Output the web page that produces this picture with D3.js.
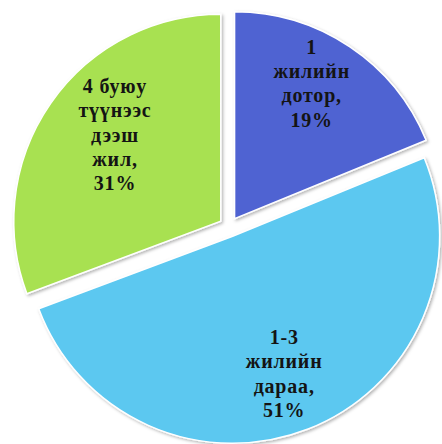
<!DOCTYPE html>
<html>
<head>
<meta charset="utf-8">
<script src="https://cdn.jsdelivr.net/npm/d3@7/dist/d3.min.js"></script>
<style>
  html, body { margin: 0; padding: 0; background: #ffffff; }
  svg { display: block; }
</style>
</head>
<body>
<svg id="chart" width="442" height="444"></svg>
<script>
// ---- data ----
const categories = ["1 жилийн дотор", "1-3 жилийн дараа", "4 буюу түүнээс дээш жил"];
const values = [19, 51, 31];
const labelLines = [
  ["1", "жилийн", "дотор,", "19%"],
  ["1-3", "жилийн", "дараа,", "51%"],
  ["4 буюу", "түүнээс", "дээш", "жил,", "31%"]
];
const colors = ["#5063d2", "#5cc8f0", "#a8e151"];

// ---- layout ----
const cx = 229, cy = 227;
const R = 207;
const explode = 10;
const labelFrac = [0.753, 0.708, 0.661];
const labelShiftDeg = [-4.2, 0.8, 4.6];
const lineH = 24.3;

const svg = d3.select("#chart");
const defs = svg.append("defs");
const f = defs.append("filter").attr("id", "sh")
  .attr("x", "-10%").attr("y", "-10%").attr("width", "120%").attr("height", "120%");
f.append("feDropShadow").attr("dx", 1.5).attr("dy", 1.5)
  .attr("stdDeviation", 1.5).attr("flood-color", "#000").attr("flood-opacity", 0.3);

const pie = d3.pie().sort(null).value(d => d);
const arcs = pie(values);
const arc = d3.arc().innerRadius(0).outerRadius(R);

const g = svg.append("g").attr("transform", `translate(${cx},${cy})`);

const slices = g.selectAll("g.slice").data(arcs).enter().append("g")
  .attr("class", "slice")
  .attr("transform", d => {
    const a = (d.startAngle + d.endAngle) / 2;
    return `translate(${Math.sin(a) * explode},${-Math.cos(a) * explode})`;
  });

slices.append("path")
  .attr("d", arc)
  .attr("fill", (d, i) => colors[i])
  .attr("stroke", "#ffffff")
  .attr("stroke-width", 1.5)
  .attr("filter", "url(#sh)");

slices.each(function(d, i) {
  const a = (d.startAngle + d.endAngle) / 2 + labelShiftDeg[i] * Math.PI / 180;
  const rr = R * labelFrac[i];
  const x = Math.sin(a) * rr, y = -Math.cos(a) * rr;
  const lines = labelLines[i];
  const t = d3.select(this).append("text")
    .attr("text-anchor", "middle")
    .attr("font-family", "'Liberation Serif', 'Times New Roman', serif")
    .attr("font-weight", "bold")
    .attr("font-size", 20)
    .attr("letter-spacing", 0.8)
    .attr("fill", "#141414");
  lines.forEach((ln, k) => {
    t.append("tspan")
      .attr("x", x)
      .attr("y", y + (k - (lines.length - 1) / 2) * lineH)
      .attr("dy", "0.35em")
      .text(ln);
  });
});
</script>
</body>
</html>
